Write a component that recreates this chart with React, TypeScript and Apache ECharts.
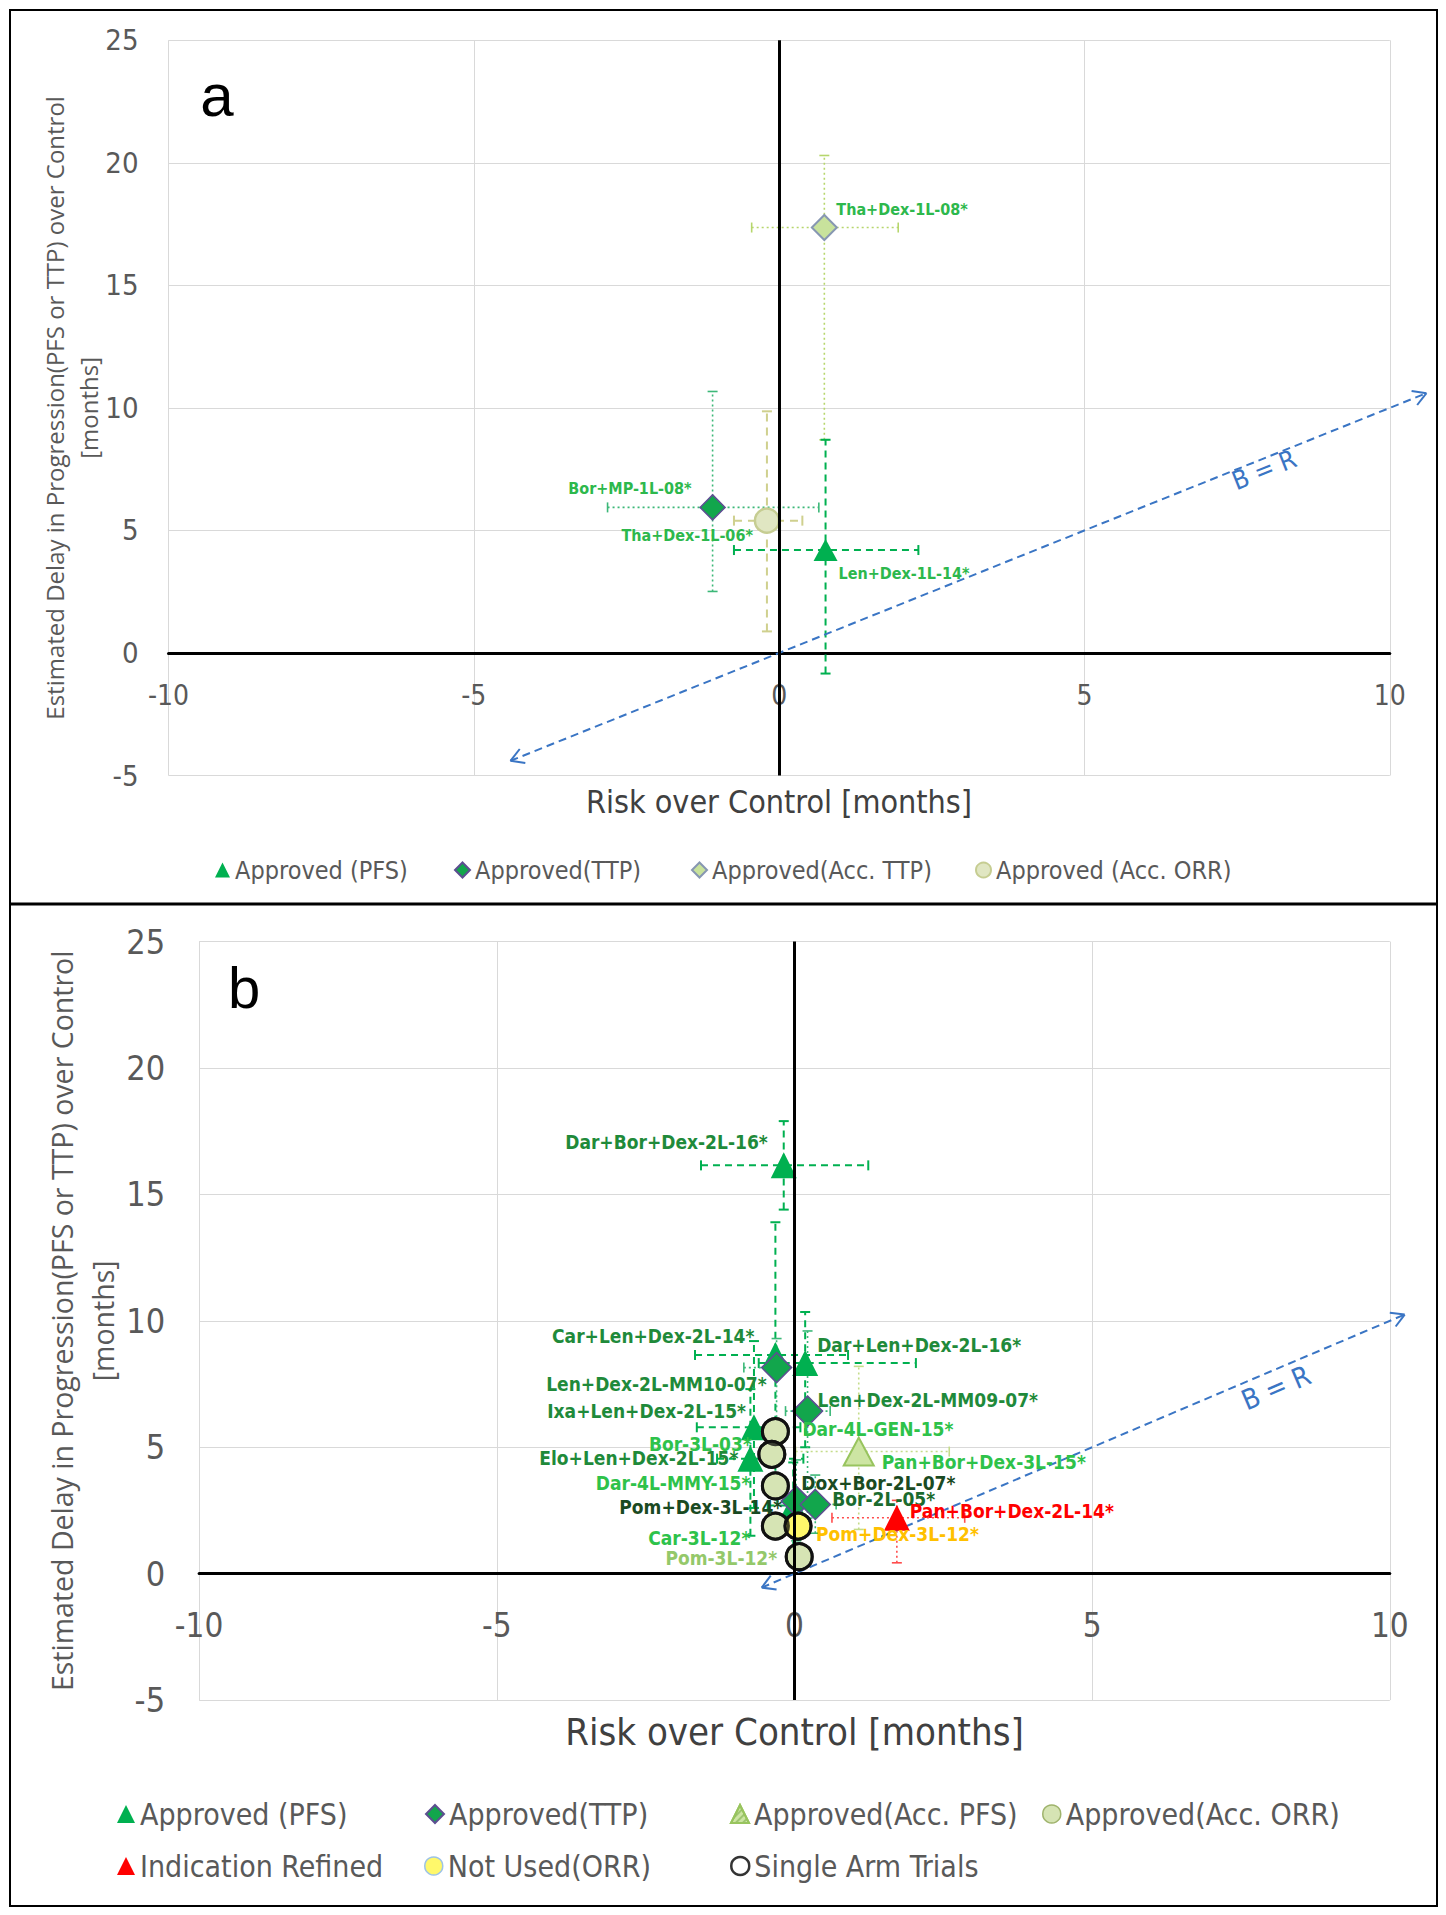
import React, { useEffect, useRef } from 'react';
import * as echarts from 'echarts';

const NARROW = '"Liberation Sans Narrow", "Arial Narrow", "DejaVu Sans Condensed", sans-serif';
const SANS = '"Open Sans", "Noto Sans", sans-serif';

// ---------------- Axis ranges ----------------
const riskRange = [-10, 10];
const delayRange = [-5, 25];
const tickStep = 5;

// ---------------- Panel a data ----------------
const aTrials = ['Tha+Dex-1L-08*', 'Bor+MP-1L-08*', 'Tha+Dex-1L-06*', 'Len+Dex-1L-14*'];
const aCategory = ['Approved(Acc. TTP)', 'Approved(TTP)', 'Approved (Acc. ORR)', 'Approved (PFS)'];
const aRisk = [0.74, -1.09, -0.2, 0.76];
const aDelay = [17.36, 5.94, 5.4, 4.2];
const aRiskLow = [-0.45, -2.81, -0.74, -0.74];
const aRiskHigh = [1.95, 0.65, 0.38, 2.28];
const aDelayLow = [8.7, 2.51, 0.88, -0.84];
const aDelayHigh = [20.3, 10.67, 9.86, 8.7];
const aDiagonal = [-4.4, 10.6];
const aLegendItems = ['Approved (PFS)', 'Approved(TTP)', 'Approved(Acc. TTP)', 'Approved (Acc. ORR)'];

// ---------------- Panel b data ----------------
const bTrials = [
  'Dar+Bor+Dex-2L-16*', 'Car+Len+Dex-2L-14*', 'Dar+Len+Dex-2L-16*', 'Len+Dex-2L-MM10-07*',
  'Len+Dex-2L-MM09-07*', 'Ixa+Len+Dex-2L-15*', 'Elo+Len+Dex-2L-15*', 'Pom+Dex-3L-14*',
  'Dox+Bor-2L-07*', 'Bor-2L-05*', 'Pan+Bor+Dex-3L-15*', 'Pan+Bor+Dex-2L-14*',
  'Dar-4L-GEN-15*', 'Bor-3L-03*', 'Dar-4L-MMY-15*', 'Car-3L-12*', 'Pom-3L-12*', 'Pom+Dex-3L-12*',
];
const bCategory = [
  'Approved (PFS)', 'Approved (PFS)', 'Approved (PFS)', 'Approved(TTP)',
  'Approved(TTP)', 'Approved (PFS)', 'Approved (PFS)', 'Approved (PFS)',
  'Approved(TTP)', 'Approved(TTP)', 'Approved(Acc. PFS)', 'Indication Refined',
  'Approved(Acc. ORR)', 'Approved(Acc. ORR)', 'Approved(Acc. ORR)', 'Approved(Acc. ORR)', 'Approved(Acc. ORR)', 'Not Used(ORR)',
];
const bRisk = [-0.18, -0.32, 0.18, -0.3, 0.22, -0.68, -0.74, -0.02, 0.03, 0.35, 1.08, 1.72, -0.32, -0.38, -0.32, -0.32, 0.08, 0.06];
const bDelay = [16.15, 8.65, 8.33, 8.15, 6.43, 5.79, 4.55, 2.7, 2.87, 2.74, 4.83, 2.21, 5.62, 4.72, 3.47, 1.88, 0.67, 1.88];
const bRiskLow = [-1.57, -1.67, -0.6, -0.85, -0.15, -1.64, -1.3, -0.45, -0.3, 0.05, 0.02, 0.63, null, null, null, null, null, null];
const bRiskHigh = [1.24, 0.9, 2.04, 0.2, 0.6, 0.1, 0.15, 0.4, 0.45, 0.7, 2.6, 2.86, null, null, null, null, null, null];
const bDelayLow = [14.4, 3.6, 5.0, 5.0, 2.2, 2.6, 1.5, 1.0, 1.3, 1.6, 1.75, 0.43, null, null, null, null, null, null];
const bDelayHigh = [17.9, 13.9, 10.35, 9.3, 9.6, 9.2, 7.3, 4.4, 4.5, 3.9, 8.2, 2.9, null, null, null, null, null, null];
const bSingleArm = ['Dar-4L-GEN-15*', 'Bor-3L-03*', 'Dar-4L-MMY-15*', 'Car-3L-12*', 'Pom-3L-12*', 'Pom+Dex-3L-12*'];
const bDiagonal = [-0.55, 10.25];
const bLegendRow1 = ['Approved (PFS)', 'Approved(TTP)', 'Approved(Acc. PFS)', 'Approved(Acc. ORR)'];
const bLegendRow2 = ['Indication Refined', 'Not Used(ORR)', 'Single Arm Trials'];

// ---------------- Styles (not data) ----------------
const LA = '#2db84c';
const DG = '#1f8a3a';
const VDG = '#1a4a22';
const BG = '#2ec24a';
const catStyle: Record<string, any> = {
  'Approved (PFS)': { symbol: 'triangle', item: { color: '#00b050' }, bar: { stroke: '#00b050', dash: [7, 5], w: 2 } },
  'Approved(TTP)': { symbol: 'diamond', item: { color: '#12a64c', borderColor: '#5d4f91', borderWidth: 1.5 }, bar: { stroke: '#3cb878', dash: [2, 3], w: 1.6 } },
  'Approved(Acc. TTP)': { symbol: 'diamond', item: { color: '#c8e29c', borderColor: '#8797b2', borderWidth: 2 }, bar: { stroke: '#b6d66c', dash: [2, 3], w: 1.6 } },
  'Approved (Acc. ORR)': { symbol: 'circle', item: { color: '#e0e6c2', borderColor: '#c6cd92', borderWidth: 2.5 }, bar: { stroke: '#cfd08e', dash: [8, 6], w: 2 } },
  'Approved(Acc. PFS)': {
    symbol: 'triangle',
    item: {
      color: '#cde5a3', borderColor: '#98c45e', borderWidth: 2,
      decal: { symbol: 'rect', symbolSize: 1, dashArrayX: [1, 0], dashArrayY: [2, 3], rotation: -Math.PI / 4, color: 'rgba(120,170,70,0.55)' },
    },
    bar: { stroke: '#c4dc8a', dash: [2, 3], w: 1.6 },
  },
  'Approved(Acc. ORR)': { symbol: 'circle', item: { color: '#d6e4b4', borderColor: '#111', borderWidth: 3 }, bar: { stroke: '#9fd06a', dash: [6, 4], w: 1.6 } },
  'Indication Refined': { symbol: 'triangle', item: { color: '#ff0000' }, bar: { stroke: '#ff4d4d', dash: [2, 3], w: 1.6 } },
  'Not Used(ORR)': { symbol: 'circle', item: { color: '#fff86b', borderColor: '#111', borderWidth: 3 }, bar: { stroke: '#ffc000', dash: [2, 3], w: 1.6 } },
  'Single Arm Trials': { symbol: 'circle', item: { color: 'rgba(255,255,255,0)', borderColor: '#111', borderWidth: 3 } },
};

const labelPlacement: Record<string, { dx: number; dy: number; align: string; color: string }> = {
  'Tha+Dex-1L-08*': { dx: 12, dy: -18, align: 'left', color: LA },
  'Bor+MP-1L-08*': { dx: -21, dy: -19, align: 'right', color: LA },
  'Tha+Dex-1L-06*': { dx: -14, dy: 15, align: 'right', color: LA },
  'Len+Dex-1L-14*': { dx: 13, dy: 23, align: 'left', color: LA },
  'Dar+Bor+Dex-2L-16*': { dx: -16, dy: -23, align: 'right', color: DG },
  'Car+Len+Dex-2L-14*': { dx: -21, dy: -19, align: 'right', color: DG },
  'Dar+Len+Dex-2L-16*': { dx: 12, dy: -18, align: 'left', color: DG },
  'Len+Dex-2L-MM10-07*': { dx: -10, dy: 16, align: 'right', color: DG },
  'Len+Dex-2L-MM09-07*': { dx: 10, dy: -11, align: 'left', color: DG },
  'Ixa+Len+Dex-2L-15*': { dx: -8, dy: -16, align: 'right', color: DG },
  'Dar-4L-GEN-15*': { dx: 27, dy: -3, align: 'left', color: BG },
  'Bor-3L-03*': { dx: -20, dy: -10, align: 'right', color: BG },
  'Pan+Bor+Dex-3L-15*': { dx: 23, dy: 10, align: 'left', color: BG },
  'Elo+Len+Dex-2L-15*': { dx: -12, dy: -1, align: 'right', color: DG },
  'Dar-4L-MMY-15*': { dx: -25, dy: -3, align: 'right', color: BG },
  'Dox+Bor-2L-07*': { dx: 5, dy: -18, align: 'left', color: VDG },
  'Bor-2L-05*': { dx: 17, dy: -5, align: 'left', color: '#1b6b2e' },
  'Pom+Dex-3L-14*': { dx: -11, dy: 2, align: 'right', color: VDG },
  'Pan+Bor+Dex-2L-14*': { dx: 13, dy: -7, align: 'left', color: '#ff0000' },
  'Pom+Dex-3L-12*': { dx: 18, dy: 8, align: 'left', color: '#ffc000' },
  'Car-3L-12*': { dx: -25, dy: 12, align: 'right', color: BG },
  'Pom-3L-12*': { dx: -22, dy: 1, align: 'right', color: '#94c86a' },
};

function sizeFor(panel: string, cat: string) {
  const sym = catStyle[cat].symbol;
  if (panel === 'a') return sym === 'triangle' ? [24, 22] : sym === 'diamond' ? 25 : 24;
  if (cat === 'Approved(Acc. PFS)') return [30, 28];
  return sym === 'triangle' ? [26, 26] : sym === 'diamond' ? 30 : 26;
}

function pointSeries(panel: string, gi: number, names: string[], cats: string[], xs: number[], ys: number[]) {
  const groups: string[] = [];
  cats.forEach((c) => { if (!groups.includes(c)) groups.push(c); });
  return groups.map((c) => ({
    type: 'scatter', name: c, xAxisIndex: gi, yAxisIndex: gi, z: 3, silent: true,
    symbol: catStyle[c].symbol, symbolSize: sizeFor(panel, c),
    itemStyle: { ...catStyle[c].item, opacity: 1 },
    data: names.map((n, i) => (cats[i] === c ? { name: n, value: [xs[i], ys[i]] } : null)).filter(Boolean),
  }));
}

function barSeries(gi: number, names: string[], cats: string[], xs: number[], ys: number[], xl: any[], xh: any[], yl: any[], yh: any[]) {
  const idx = names.map((_, i) => i).filter((i) => xl[i] != null);
  const styles = idx.map((i) => catStyle[cats[i]].bar);
  return {
    type: 'custom', xAxisIndex: gi, yAxisIndex: gi, z: 1, silent: true, clip: false,
    data: idx.map((i) => [xs[i], ys[i], xl[i], xh[i], yl[i], yh[i]]),
    renderItem: (params: any, api: any) => {
      const s = styles[params.dataIndex];
      const l = api.coord([api.value(2), api.value(1)]);
      const r = api.coord([api.value(3), api.value(1)]);
      const b = api.coord([api.value(0), api.value(4)]);
      const t = api.coord([api.value(0), api.value(5)]);
      const st = { stroke: s.stroke, lineWidth: s.w, lineDash: s.dash, fill: 'none' };
      const cs = { stroke: s.stroke, lineWidth: s.w, fill: 'none' };
      const k = 5;
      return {
        type: 'group',
        children: [
          { type: 'line', shape: { x1: l[0], y1: l[1], x2: r[0], y2: r[1] }, style: st },
          { type: 'line', shape: { x1: b[0], y1: b[1], x2: t[0], y2: t[1] }, style: st },
          { type: 'line', shape: { x1: l[0], y1: l[1] - k, x2: l[0], y2: l[1] + k }, style: cs },
          { type: 'line', shape: { x1: r[0], y1: r[1] - k, x2: r[0], y2: r[1] + k }, style: cs },
          { type: 'line', shape: { x1: b[0] - k, y1: b[1], x2: b[0] + k, y2: b[1] }, style: cs },
          { type: 'line', shape: { x1: t[0] - k, y1: t[1], x2: t[0] + k, y2: t[1] }, style: cs },
        ],
      };
    },
  };
}

function labelSeries(gi: number, names: string[], xs: number[], ys: number[], fs: number) {
  return {
    type: 'custom', xAxisIndex: gi, yAxisIndex: gi, z: 5, silent: true, clip: false,
    data: names.map((n, i) => ({ name: n, value: [xs[i], ys[i]] })),
    renderItem: (params: any, api: any) => {
      const n = names[params.dataIndex];
      const pl = labelPlacement[n];
      const p = api.coord([api.value(0), api.value(1)]);
      return {
        type: 'text', x: p[0] + pl.dx, y: p[1] + pl.dy,
        style: {
          text: n, fill: pl.color, font: `bold ${fs}px ${NARROW}`,
          textAlign: pl.align, textVerticalAlign: 'middle', align: pl.align, verticalAlign: 'middle',
        },
      };
    },
  };
}

function diagonalSeries(gi: number, diag: number[], labelAt: number[], fs: number) {
  return {
    type: 'custom', xAxisIndex: gi, yAxisIndex: gi, z: 2, silent: true, clip: false,
    data: [[diag[0], diag[0], diag[1], diag[1], labelAt[0], labelAt[1]]],
    renderItem: (params: any, api: any) => {
      const p1 = api.coord([api.value(0), api.value(1)]);
      const p2 = api.coord([api.value(2), api.value(3)]);
      const lp = api.coord([api.value(4), api.value(5)]);
      const ang = Math.atan2(p2[1] - p1[1], p2[0] - p1[0]);
      const L = 15, sp = Math.PI / 6;
      const col = '#3a75c4';
      const ast = { stroke: col, lineWidth: 2, fill: 'none' };
      const head = (p: number[], dir: number) => [
        { type: 'line', shape: { x1: p[0], y1: p[1], x2: p[0] - dir * L * Math.cos(ang + sp), y2: p[1] - dir * L * Math.sin(ang + sp) }, style: ast },
        { type: 'line', shape: { x1: p[0], y1: p[1], x2: p[0] - dir * L * Math.cos(ang - sp), y2: p[1] - dir * L * Math.sin(ang - sp) }, style: ast },
      ];
      return {
        type: 'group',
        children: [
          { type: 'line', shape: { x1: p1[0], y1: p1[1], x2: p2[0], y2: p2[1] }, style: { stroke: col, lineWidth: 2, lineDash: [8, 5], fill: 'none' } },
          ...head(p2, 1),
          ...head(p1, -1),
          {
            type: 'text', x: lp[0], y: lp[1], rotation: -ang,
            style: { text: 'B = R', fill: col, font: `${fs}px ${NARROW}`, textAlign: 'center', textVerticalAlign: 'middle', align: 'center', verticalAlign: 'middle' },
          },
        ],
      };
    },
  };
}

function zeroLineSeries(gi: number) {
  return {
    type: 'scatter', xAxisIndex: gi, yAxisIndex: gi, data: [], z: 1, silent: true,
    markLine: {
      silent: true, symbol: ['none', 'none'], label: { show: false },
      lineStyle: { color: '#000', width: 3, type: 'solid' },
      data: [{ xAxis: 0 }],
    },
  };
}

function xAxisFor(gi: number, fs: number, margin: number) {
  return {
    type: 'value', gridIndex: gi, min: riskRange[0], max: riskRange[1], interval: tickStep,
    axisLine: { show: true, onZero: true, lineStyle: { color: '#000', width: 3 } },
    axisTick: { show: false },
    axisLabel: { color: '#595959', fontFamily: NARROW, fontSize: fs, margin },
    splitLine: { show: true, lineStyle: { color: '#d9d9d9', width: 1 } },
  };
}

function yAxisFor(gi: number, fs: number, margin: number, nameFs: number, nameLh: number, nameGap: number) {
  return {
    type: 'value', gridIndex: gi, min: delayRange[0], max: delayRange[1], interval: tickStep,
    axisLine: { show: false, onZero: false },
    axisTick: { show: false },
    axisLabel: { color: '#595959', fontFamily: NARROW, fontSize: fs, margin },
    splitLine: { show: true, lineStyle: { color: '#d9d9d9', width: 1 } },
    name: 'Estimated Delay in Progression(PFS or TTP) over Control\n[months]',
    nameLocation: 'middle', nameRotate: 90, nameGap, nameMoveOverlap: false,
    nameTextStyle: { fontFamily: SANS, fontSize: nameFs, color: '#595959', lineHeight: nameLh, align: 'center' },
  };
}

const legendOverride: Record<string, any> = {
  'Approved(Acc. ORR)': { borderColor: '#9fb36c', borderWidth: 1.5 },
  'Not Used(ORR)': { borderColor: '#9dc3e6', borderWidth: 1.5 },
  'Single Arm Trials': { color: '#fff', borderColor: '#000', borderWidth: 2.5 },
};

function legendItem(name: string, left: number, cy: number, fs: number, isz: number) {
  const item: any = { name, icon: catStyle[name].symbol };
  if (legendOverride[name]) item.itemStyle = legendOverride[name];
  const lh = fs + 4;
  return {
    data: [item], left, top: cy - lh / 2, padding: 0, itemWidth: isz, itemHeight: isz, itemGap: 0,
    selectedMode: false,
    textStyle: { fontFamily: NARROW, fontSize: fs, color: '#595959', lineHeight: lh },
  };
}

function buildOption() {
  const aLegendLeft = [215, 454, 691, 975];
  const bRow1Left = [117, 425, 730, 1042];
  const bRow2Left = [117, 424, 730];
  const singleIdx = bTrials.map((n, i) => i).filter((i) => bSingleArm.includes(bTrials[i]));
  return {
    animation: false,
    backgroundColor: '#fff',
    grid: [
      { left: 168.5, top: 40.3, width: 1221.3, height: 735.2 },
      { left: 199.1, top: 941.6, width: 1190.7, height: 758.5 },
    ],
    xAxis: [xAxisFor(0, 28, -94), xAxisFor(1, 33, -91)],
    yAxis: [yAxisFor(0, 29, 30, 24, 34, 63), yAxisFor(1, 34, 34, 28.5, 41, 76)],
    legend: [
      ...aLegendItems.map((n, i) => legendItem(n, aLegendLeft[i], 870, 25, 15)),
      ...bLegendRow1.map((n, i) => legendItem(n, bRow1Left[i], 1814, 30, 18)),
      ...bLegendRow2.map((n, i) => legendItem(n, bRow2Left[i], 1866, 30, 18)),
    ],
    series: [
      zeroLineSeries(0),
      diagonalSeries(0, aDiagonal, [7.94, 7.48], 26),
      barSeries(0, aTrials, aCategory, aRisk, aDelay, aRiskLow, aRiskHigh, aDelayLow, aDelayHigh),
      ...pointSeries('a', 0, aTrials, aCategory, aRisk, aDelay),
      labelSeries(0, aTrials, aRisk, aDelay, 16),
      zeroLineSeries(1),
      diagonalSeries(1, bDiagonal, [8.09, 7.35], 28),
      barSeries(1, bTrials, bCategory, bRisk, bDelay, bRiskLow, bRiskHigh, bDelayLow, bDelayHigh),
      ...pointSeries('b', 1, bTrials, bCategory, bRisk, bDelay),
      {
        type: 'scatter', name: 'Single Arm Trials', xAxisIndex: 1, yAxisIndex: 1, z: 4, silent: true,
        symbol: 'circle', symbolSize: 26, itemStyle: catStyle['Single Arm Trials'].item,
        data: singleIdx.map((i) => ({ name: bTrials[i], value: [bRisk[i], bDelay[i]] })),
      },
      labelSeries(1, bTrials, bRisk, bDelay, 19),
    ],
    graphic: [
      { type: 'rect', shape: { x: 10, y: 10, width: 1427, height: 1896 }, style: { fill: 'none', stroke: '#000', lineWidth: 2 }, z: 100 },
      { type: 'line', shape: { x1: 10, y1: 904, x2: 1437, y2: 904 }, style: { stroke: '#000', lineWidth: 3 }, z: 100 },
      { type: 'text', x: 779, y: 802, style: { text: 'Risk over Control [months]', fill: '#404040', font: `32px ${NARROW}`, textAlign: 'center', textVerticalAlign: 'middle', align: 'center', verticalAlign: 'middle' } },
      { type: 'text', x: 794.5, y: 1732, style: { text: 'Risk over Control [months]', fill: '#404040', font: `38px ${NARROW}`, textAlign: 'center', textVerticalAlign: 'middle', align: 'center', verticalAlign: 'middle' } },
      { type: 'text', x: 217, y: 95, style: { text: 'a', fill: '#000', font: `60px "Liberation Sans", Arial, sans-serif`, textAlign: 'center', textVerticalAlign: 'middle', align: 'center', verticalAlign: 'middle' } },
      { type: 'text', x: 244, y: 987, style: { text: 'b', fill: '#000', font: `58px "Liberation Sans", Arial, sans-serif`, textAlign: 'center', textVerticalAlign: 'middle', align: 'center', verticalAlign: 'middle' } },
    ],
  };
}

export default function App() {
  const ref = useRef<HTMLDivElement>(null);
  useEffect(() => {
    const chart = echarts.init(ref.current!, null, { renderer: 'svg' });
    chart.setOption(buildOption() as any);
    return () => chart.dispose();
  }, []);
  return (
    <div
      ref={ref}
      style={{ position: 'absolute', left: 0, top: 0, width: '1446px', height: '1915px', background: '#fff' }}
    />
  );
}
